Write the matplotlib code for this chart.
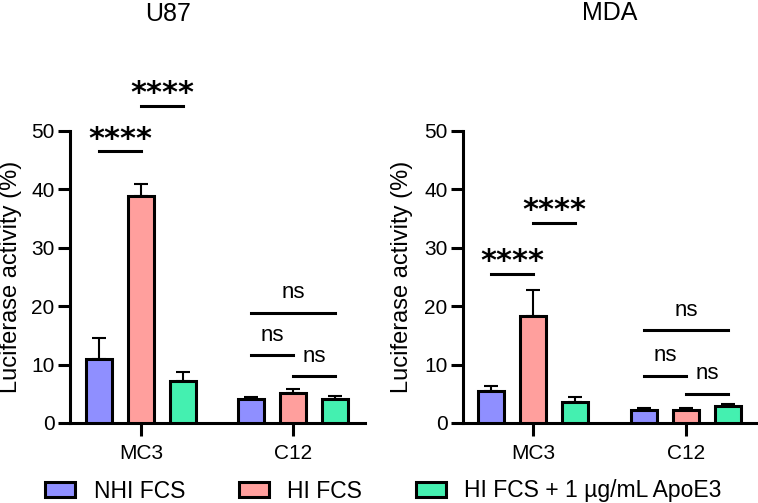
import numpy as np
import matplotlib
matplotlib.use('Agg')
import matplotlib.pyplot as plt
from matplotlib.patches import Patch

plt.rcParams['font.family'] = ['Liberation Sans', 'DejaVu Sans']

# data
groups = ['MC3', 'C12']
conditions = ['NHI FCS', 'HI FCS', 'HI FCS + 1 µg/mL ApoE3']
colors = ['#8F8FFF', '#FF9F9D', '#44F0B0']

u87_mean = [[11.0, 4.1], [38.8, 5.2], [7.2, 4.1]]
u87_err = [[3.6, 0.4], [2.1, 0.6], [1.6, 0.5]]
mda_mean = [[5.5, 2.2], [18.3, 2.2], [3.6, 2.9]]
mda_err = [[0.8, 0.4], [4.4, 0.3], [0.8, 0.4]]

# significance brackets: (group, bar_a, bar_b, height, label)
u87_sig = [(0, 0, 1, 46.5, '****'), (0, 1, 2, 54.3, '****'),
           (1, 0, 2, 18.9, 'ns'), (1, 0, 1, 11.6, 'ns'), (1, 1, 2, 8.0, 'ns')]
mda_sig = [(0, 0, 1, 25.5, '****'), (0, 1, 2, 34.3, '****'),
           (1, 0, 2, 15.9, 'ns'), (1, 0, 1, 8.1, 'ns'), (1, 1, 2, 5.0, 'ns')]

W, H = 758, 503
fig = plt.figure(figsize=(W / 100, H / 100), dpi=100)

offset = 0.276
width = 0.171
x = np.arange(len(groups))


def panel(rect, xlim, mean, err, sig, labx):
    ax = fig.add_axes(rect)
    for i in range(len(conditions)):
        xi = x + (i - 1) * offset
        ax.errorbar(xi, mean[i], yerr=[np.zeros(len(groups)), err[i]], fmt='none',
                    ecolor='black', elinewidth=1.5, capsize=5, capthick=1.5, zorder=2)
        ax.bar(xi, mean[i], width=width, color=colors[i], edgecolor='black',
               linewidth=2.2, zorder=3)
    for g, a, b, h, lab in sig:
        xa = g + (a - 1) * offset
        xb = g + (b - 1) * offset
        ax.plot([xa, xb], [h, h], color='black', lw=2.2, clip_on=False)
        if lab == 'ns':
            ax.text((xa + xb) / 2, h + 1.6, lab, ha='center', va='bottom', fontsize=16)
        else:
            ax.text((xa + xb) / 2, h - 0.4, lab, ha='center', va='bottom', fontsize=22,
                    fontweight='bold', family='DejaVu Sans')
    ax.set_xlim(*xlim)
    ax.set_ylim(0, 50)
    ax.set_yticks([0, 10, 20, 30, 40, 50])
    ax.set_xticks(x)
    ax.set_xticklabels(groups)
    ax.spines['top'].set_visible(False)
    ax.spines['right'].set_visible(False)
    ax.spines['left'].set_linewidth(2.2)
    ax.spines['bottom'].set_linewidth(2.2)
    ax.tick_params(axis='y', length=9, width=2.2, labelsize=15, pad=2)
    ax.tick_params(axis='x', length=9, width=2.2, labelsize=15, pad=6)
    ax.set_ylabel('Luciferase activity (%)', fontsize=17)
    ax.yaxis.set_label_coords(labx, 0.5)
    return ax


panel([70 / W, 80 / H, 295 / W, 292 / H], (-0.467, 1.474), u87_mean, u87_err, u87_sig, -0.163)
panel([463 / W, 80 / H, 294 / W, 292 / H], (-0.458, 1.464), mda_mean, mda_err, mda_sig, -0.17)

fig.text(168 / W, 1 - 14 / H, 'U87', ha='center', va='center', fontsize=18)
fig.text(610 / W, 1 - 13 / H, 'MDA', ha='center', va='center', fontsize=18)

handles = [Patch(facecolor=c, edgecolor='black', linewidth=2.2, label=l)
           for c, l in zip(colors, conditions)]
fig.legend(handles=handles, loc='center', bbox_to_anchor=(0.506, 1 - 491 / H), ncol=3,
           frameon=False, fontsize=16.5, handlelength=1.31, handleheight=0.61,
           handletextpad=0.79, columnspacing=2.36, borderpad=0, borderaxespad=0)

fig.savefig('out.png', dpi=100)
